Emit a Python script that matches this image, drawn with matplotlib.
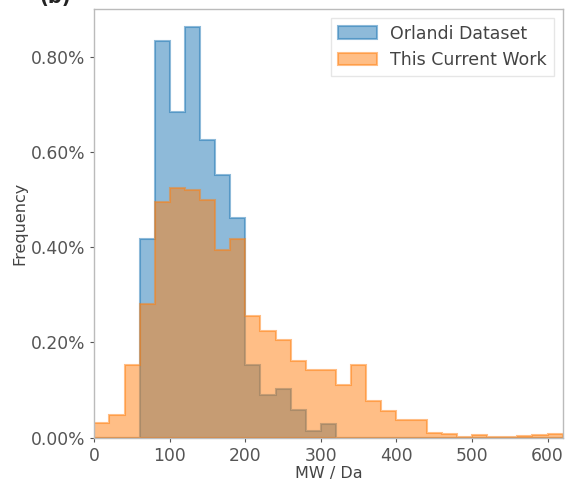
import numpy as np
import matplotlib
matplotlib.use("Agg")
import matplotlib.pyplot as plt
from matplotlib.ticker import PercentFormatter

# bin edges (Da)
bin_edges = list(range(0, 640, 20))

# Orlandi Dataset: bins starting at 60 Da (frequency in %)
orlandi_start = 60
orlandi_freq = [0.417, 0.832, 0.684, 0.862, 0.624, 0.551, 0.461,
                0.153, 0.090, 0.103, 0.058, 0.015, 0.028]

# This Current Work: bins starting at 0 Da (frequency in %)
current_start = 0
current_freq = [0.031, 0.048, 0.153, 0.280, 0.495, 0.525, 0.520, 0.500,
                0.395, 0.417, 0.255, 0.224, 0.206, 0.160, 0.143, 0.143,
                0.111, 0.153, 0.076, 0.055, 0.037, 0.037, 0.010, 0.008,
                0.002, 0.006, 0.002, 0.001, 0.004, 0.006, 0.008]

series_labels = ["Orlandi Dataset", "This Current Work"]
y_ticks = [0.0, 0.2, 0.4, 0.6, 0.8]
x_ticks = [0, 100, 200, 300, 400, 500, 600]

fig = plt.figure(figsize=(5.67, 4.83), dpi=100)
ax = fig.add_axes([0.1663, 0.0938, 0.8261, 0.8876])

edges = np.array(bin_edges, dtype=float)
o_left = orlandi_start + 20 * np.arange(len(orlandi_freq))
c_left = current_start + 20 * np.arange(len(current_freq))

blue = "#1f77b4"
orange = "#ff7f0e"
ax.hist(o_left + 1, bins=edges, weights=orlandi_freq, histtype="stepfilled",
        facecolor=blue, alpha=0.5, edgecolor=blue, linewidth=1.5,
        label=series_labels[0])
ax.hist(c_left + 1, bins=edges, weights=current_freq, histtype="stepfilled",
        facecolor=orange, alpha=0.5, edgecolor=orange, linewidth=1.5,
        label=series_labels[1])

ax.set_xlim(0, 620)
ax.set_ylim(0, 0.9)
ax.set_yticks(y_ticks)
ax.set_xticks(x_ticks)
ax.yaxis.set_major_formatter(PercentFormatter(decimals=2))

ax.tick_params(axis="both", labelsize=12.3, colors="#555555", length=3,
               width=0.8, direction="out")
for s in ax.spines.values():
    s.set_color("#bbbbbb")
    s.set_linewidth(1.0)

ax.set_xlabel("MW / Da", fontsize=11.5, color="#444444", labelpad=1)
ax.set_ylabel("Frequency", fontsize=11.5, color="#444444", labelpad=2)

leg = ax.legend(loc="upper right", fontsize=12.5, frameon=True,
                edgecolor="#e0e0e0", fancybox=False, borderpad=0.4,
                handlelength=2.2)
for t in leg.get_texts():
    t.set_color("#444444")

fig.text(0.07, 1.005, "(b)", fontsize=14, fontweight="bold", color="#222222",
         va="center", ha="left")

fig.savefig("out.png", dpi=100)
